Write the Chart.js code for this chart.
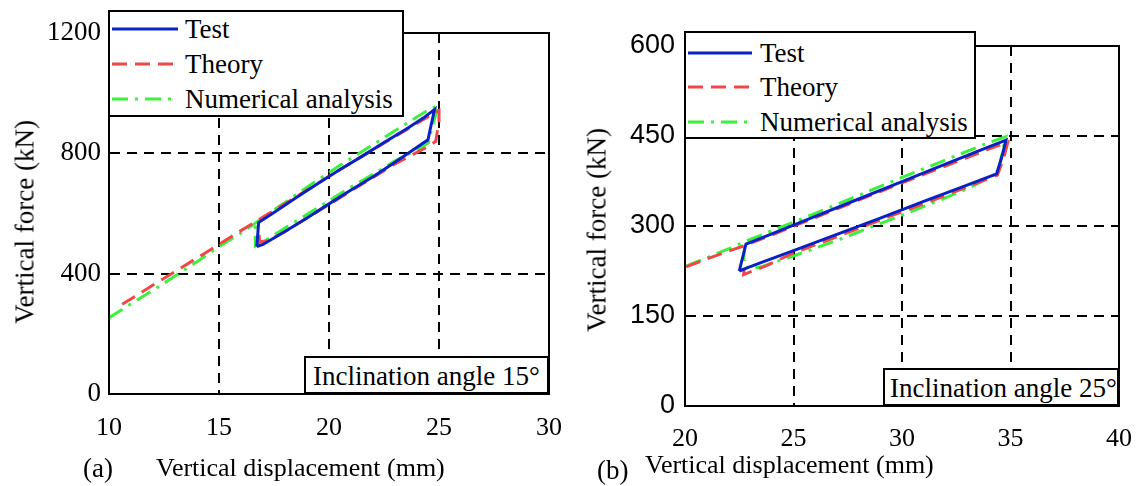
<!DOCTYPE html>
<html>
<head>
<meta charset="utf-8">
<script src="https://cdn.jsdelivr.net/npm/chart.js@4/dist/chart.umd.min.js"></script>
<style>
body{margin:0;background:#fff;font-family:"Liberation Serif","Times New Roman",serif;}
#wrap{position:relative;width:1137px;height:486px;overflow:hidden;}
.cv{position:absolute;top:0;}
.lbl{position:absolute;font-size:27px;white-space:nowrap;line-height:1;color:#000;}
.rot{transform:translate(-50%,-50%) rotate(-90deg);}
.box{position:absolute;box-sizing:border-box;border:2px solid #000;background:#fff;}
.box .txt{position:absolute;font-size:27px;line-height:1;white-space:nowrap;transform:translateY(-50%);}
</style>
</head>
<body>
<div id="wrap">
  <div class="cv" style="left:0"><canvas id="ca" width="570" height="486"></canvas></div>
  <div class="cv" style="left:570px"><canvas id="cb" width="567" height="486"></canvas></div>

  <div class="lbl rot" style="left:25px;top:222px">Vertical force (kN)</div>
  <div class="lbl rot" style="left:597px;top:230px">Vertical force (kN)</div>
  <div class="lbl" style="left:83px;top:455px">(a)</div>
  <div class="lbl" style="left:156px;top:455px;font-size:26px">Vertical displacement (mm)</div>
  <div class="lbl" style="left:597px;top:457px">(b)</div>
  <div class="lbl" style="left:645px;top:452px;font-size:26px">Vertical displacement (mm)</div>

  <div class="box" id="lega" style="left:108px;top:10px;width:296px;height:107px"></div>
  <div class="box" id="legb" style="left:684px;top:31px;width:292px;height:108px"></div>
  <div class="box" style="left:304px;top:356px;width:245px;height:38px"><span class="txt" style="left:7px;top:18px">Inclination angle 15°</span></div>
  <div class="box" style="left:883px;top:368px;width:236px;height:38px"><span class="txt" style="left:5px;top:18px">Inclination angle 25°</span></div>
</div>

<script>
// series names (legend order)
const seriesNames = ['Test', 'Theory', 'Numerical analysis'];

// (a) inclination 15deg -- [displacement mm, force kN]
const testA = [[16.72,490],[16.8,570],[17.5,603],[18.5,652],[19.5,700],[20.5,746],[21.5,790],[22.5,836],[23.5,880],[24.3,918],[24.8,946],
  [24.6,880],[24.5,845],[23.8,810],[23,770],[22,722],[21,678],[20,632],[19,585],[18,540],[17,497],[16.72,490]];
const theoryA = [[10.6,298],[12,362],[14,452],[16,543],[17,588],[18,632],[19,678],[20,724],[21,768],[22,812],[23,856],[24,900],[25,942],
  [25,905],[24.85,840],[24.5,822],[24,803],[23,765],[22,720],[21,675],[20,630],[19,585],[18,540],[17.3,512],[16.85,505],[16.8,550]];
const numericA = [[10,253],[11,300],[12,345],[13,392],[14,440],[15,490],[16,535],[16.65,568],[17.5,612],[18.5,662],[19.5,712],[20.5,760],
  [21.5,806],[22.5,852],[23.5,898],[24.3,935],[24.97,960],[24.7,890],[24.52,835],[24,812],[23,775],[22,730],[21,688],[20,642],[19,597],
  [18,552],[17,505],[16.65,492],[16.65,560]];

// (b) inclination 25deg
const testB = [[22.5,225],[22.81,270],[24,287],[26,316],[28,345],[30,374],[32,403],[34,432],[34.79,443],[34.6,415],[34.36,387],
  [33,368],[31,341],[29,313],[27,286],[25,259],[23.5,239],[22.92,231],[22.5,225]];
const theoryB = [[20.05,232],[21,245],[22,258],[22.8,268],[24,285],[26,314],[28,343],[30,372],[32,400],[34,428],[34.88,440],
  [34.7,415],[34.4,385],[33,365],[31,337],[29,310],[27,282],[25,255],[23.76,234],[22.7,219],[22.77,243]];
const numericB = [[20.05,233],[21,247],[22,262],[22.76,274],[24,292],[26,321],[28,351],[30,381],[32,410],[34,439],[34.79,449],
  [34.6,420],[34.44,390],[34,380],[33,362],[32,347],[30,318],[29,304],[27,276],[25,250],[23.5,232],[22.99,228],[22.7,236],[22.76,274]];

// tick values
const xTicksA = [10, 15, 20, 25, 30];
const yTicksA = [0, 400, 800, 1200];
const xTicksB = [20, 25, 30, 35, 40];
const yTicksB = [0, 150, 300, 450, 600];

const styles = [
  {color: '#0a22c4', dash: []},
  {color: '#f04848', dash: [15, 8]},
  {color: '#3cf03c', dash: [16, 7, 3, 7]}
];

const frame = {
  id: 'frame',
  afterDatasetsDraw(chart) {
    const a = chart.chartArea, ctx = chart.ctx;
    ctx.save();
    ctx.strokeStyle = '#000';
    ctx.lineWidth = 2;
    ctx.strokeRect(a.left, a.top, a.right - a.left, a.bottom - a.top);
    ctx.restore();
  }
};

function makeChart(id, sets, xt, yt, yFont, lay) {
  const edge = (t, arr) => (t.tick.value === arr[0] || t.tick.value === arr[arr.length - 1]) ? 'rgba(0,0,0,0)' : '#000';
  return new Chart(document.getElementById(id), {
    type: 'scatter',
    data: {
      datasets: sets.map((d, i) => ({
        label: seriesNames[i],
        data: d.map(p => ({x: p[0], y: p[1]})),
        showLine: true,
        borderColor: styles[i].color,
        borderDash: styles[i].dash,
        borderWidth: 3,
        pointRadius: 0,
        tension: 0
      }))
    },
    options: {
      responsive: false,
      animation: false,
      layout: {padding: {left: 0, right: lay.right, top: lay.top, bottom: 0}},
      plugins: {legend: {display: false}, tooltip: {enabled: false}},
      scales: {
        x: {
          type: 'linear', min: xt[0], max: xt[xt.length - 1],
          afterBuildTicks: s => { s.ticks = xt.map(v => ({value: v})); },
          afterFit: s => { s.height = lay.xh; s.paddingLeft = 0; s.paddingRight = 0; },
          grid: {color: t => edge(t, xt), lineWidth: 2, drawTicks: false},
          border: {color: '#000', width: 2, dash: [10, 7]},
          ticks: {color: '#000', padding: lay.xpad, maxRotation: 0, callback: v => String(v),
            font: {family: '"Liberation Serif", serif', size: lay.xfs}}
        },
        y: {
          type: 'linear', min: yt[0], max: yt[yt.length - 1],
          afterBuildTicks: s => { s.ticks = yt.map(v => ({value: v})); },
          afterFit: s => { s.width = lay.yw; s.paddingTop = 0; s.paddingBottom = 0; },
          grid: {color: t => edge(t, yt), lineWidth: 2, drawTicks: false},
          border: {color: '#000', width: 2, dash: [10, 7]},
          ticks: {color: '#000', padding: lay.ypad, callback: v => String(v), font: {family: yFont, size: 27}}
        }
      }
    },
    plugins: [frame]
  });
}

makeChart('ca', [testA, theoryA, numericA], xTicksA, yTicksA, '"Liberation Serif", serif',
  {right: 21, top: 33, xh: 92, yw: 109, xpad: 19, ypad: 8, xfs: 26});
makeChart('cb', [testB, theoryB, numericB], xTicksB, yTicksB, '"Liberation Sans", Arial, sans-serif',
  {right: 18, top: 46, xh: 80, yw: 115, xpad: 18, ypad: 10, xfs: 26});

// legends as html boxes
function fillLegend(id, rows, sx, sw, tx) {
  const box = document.getElementById(id);
  seriesNames.forEach((name, i) => {
    const svg = document.createElementNS('http://www.w3.org/2000/svg', 'svg');
    svg.setAttribute('width', sw); svg.setAttribute('height', 8);
    svg.style.cssText = 'position:absolute;left:' + sx + 'px;top:' + (rows[i] - 4) + 'px';
    const ln = document.createElementNS('http://www.w3.org/2000/svg', 'line');
    ln.setAttribute('x1', 0); ln.setAttribute('y1', 4); ln.setAttribute('x2', sw); ln.setAttribute('y2', 4);
    ln.setAttribute('stroke', styles[i].color); ln.setAttribute('stroke-width', 3);
    if (styles[i].dash.length) ln.setAttribute('stroke-dasharray', styles[i].dash.join(' '));
    svg.appendChild(ln);
    box.appendChild(svg);
    const t = document.createElement('span');
    t.className = 'txt';
    t.style.left = tx + 'px'; t.style.top = rows[i] + 'px';
    t.textContent = name;
    box.appendChild(t);
  });
}
fillLegend('lega', [17, 52, 87], 2, 66, 75);
fillLegend('legb', [20, 54, 89], 2, 64, 74);
</script>
</body>
</html>
